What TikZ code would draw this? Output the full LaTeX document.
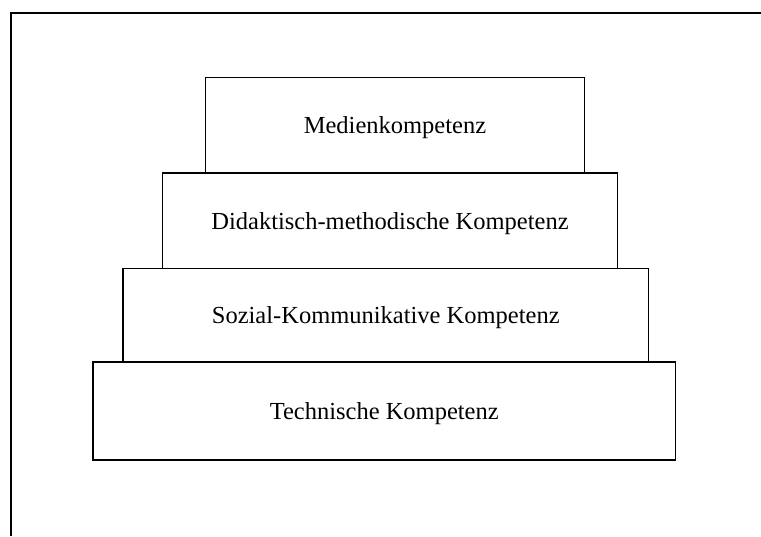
\documentclass[tikz,border=0pt]{standalone}
\usepackage{fontspec}
\setmainfont{Liberation Serif}

\tikzset{
	stufe/.style={draw, line width=1.5pt, inner sep=0pt, text depth=0pt, font=\fontsize{24.5}{29}\selectfont}
}

\begin{document}
\begin{tikzpicture}[x=1pt,y=-1pt]
				\useasboundingbox (0,0) rectangle (761,536);
				\draw[line width=1.5pt] (761,13) -- (11,13) -- (11,536);
				
				\node[stufe, minimum width=379pt, minimum height=95.5pt] (medien) at (395,125.25) {Medienkompetenz};
				\node[stufe, minimum width=455pt, minimum height=95.5pt] (didaktik) at (390,220.75) {Didaktisch-methodische Kompetenz};
				\node[stufe, minimum width=525.5pt, minimum height=93.5pt] (sozial) at (385.75,315.25) {Sozial-Kommunikative Kompetenz};
				\node[stufe, minimum width=582.5pt, minimum height=98pt] (technik) at (384.25,411) {Technische Kompetenz};
			\end{tikzpicture}
\end{document}
